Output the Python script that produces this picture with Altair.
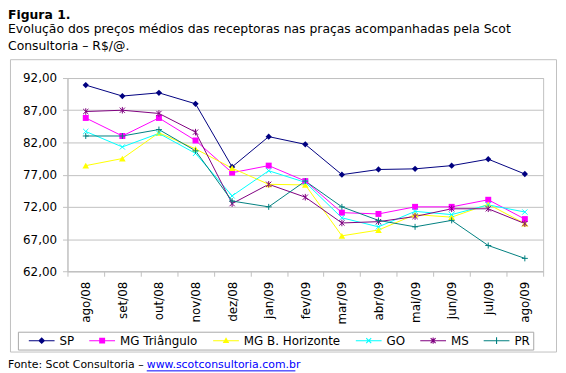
import math
import altair as alt
import pandas as pd

# ---------------- data ----------------
meses = ["ago/08", "set/08", "out/08", "nov/08", "dez/08", "jan/09", "fev/09",
         "mar/09", "abr/09", "mai/09", "jun/09", "jul/09", "ago/09"]
series = ["SP", "MG Triângulo", "MG B. Horizonte", "GO", "MS", "PR"]
sp = [90.9, 89.2, 89.7, 88.0, 78.2, 82.9, 81.7, 77.0, 77.8, 77.9, 78.4, 79.4, 77.1]
mg_tri = [85.8, 83.0, 85.8, 82.3, 77.3, 78.4, 76.0, 71.1, 70.9, 72.0, 72.0, 73.1, 70.1]
mg_bh = [78.4, 79.5, 83.5, 81.0, 78.0, 75.5, 75.4, 67.5, 68.4, 70.8, 70.4, 72.4, 69.4]
go = [83.7, 81.3, 83.4, 80.3, 73.7, 77.6, 75.8, 70.3, 68.9, 71.3, 70.8, 72.3, 71.2]
ms = [86.8, 87.0, 86.5, 83.6, 72.5, 75.5, 73.5, 69.5, 69.7, 70.5, 71.7, 71.7, 69.4]
pr = [83.0, 83.0, 84.0, 80.7, 72.9, 72.0, 76.0, 72.0, 69.9, 68.9, 69.9, 66.0, 64.0]
y_ticks = [62, 67, 72, 77, 82, 87, 92]

cores = ["#000080", "#ff00ff", "#ffff00", "#00ffff", "#800080", "#008080"]
valores = dict(zip(series, [sp, mg_tri, mg_bh, go, ms, pr]))

rows = []
for s in series:
    for i, (m, v) in enumerate(zip(meses, valores[s])):
        rows.append({"mes": m, "i": i, "serie": s, "valor": v})
df = pd.DataFrame(rows)
one = pd.DataFrame({"k": [0]})

FONT = "DejaVu Sans"
GRAY = "#c0c0c0"

# ---------------- legend symbols (line + marker) ----------------
# symbol size 100 -> 1 path unit = 5 px; line spans 26 px
U = 5.0


def poly(pts):
    n = len(pts)
    area = sum(pts[k][0] * pts[(k + 1) % n][1] - pts[(k + 1) % n][0] * pts[k][1] for k in range(n))
    if area > 0:
        pts = pts[::-1]
    return "M" + "L".join(f"{x / U:.3f},{y / U:.3f}" for x, y in pts) + "Z"


def seg(p, q, h=0.55):
    dx, dy = q[0] - p[0], q[1] - p[1]
    L = math.hypot(dx, dy)
    nx, ny = -dy / L * h, dx / L * h
    return poly([(p[0] + nx, p[1] + ny), (q[0] + nx, q[1] + ny),
                 (q[0] - nx, q[1] - ny), (p[0] - nx, p[1] - ny)])


line = seg((-13, 0), (13, 0), 0.5)
a = 2.5
xm = seg((-a, -a), (a, a)) + seg((-a, a), (a, -a))
leg_paths = [
    line + poly([(0, -3.5), (3.5, 0), (0, 3.5), (-3.5, 0)]),
    line + poly([(-3, -3), (3, -3), (3, 3), (-3, 3)]),
    line + poly([(0, -3.5), (3.3, 2.5), (-3.3, 2.5)]),
    line + xm,
    line + xm + seg((0, -3.1), (0, 3.1)),
    line + seg((0, -3.4), (0, 3.4)),
]

# ---------------- encodings ----------------
x_enc = alt.X("mes:N", sort=meses,
              scale=alt.Scale(type="band", paddingInner=0, paddingOuter=0),
              axis=alt.Axis(title=None, labelAngle=270, tickBand="extent", grid=False,
                            labelPadding=5, tickSize=5))
y_enc = alt.Y("valor:Q", scale=alt.Scale(domain=[62, 92], nice=False, zero=False),
              axis=alt.Axis(title=None, values=y_ticks, grid=True, tickSize=5, labelPadding=6,
                            labelExpr="replace(format(datum.value, '.2f'), '.', ',')"))
stroke_enc = alt.Stroke("serie:N", sort=series, scale=alt.Scale(range=cores), legend=None)
fill_enc = alt.Fill("serie:N", sort=series, scale=alt.Scale(range=cores), legend=None)

base = alt.Chart(df)

# outer frame (decorative box around the figure)
frame = []
L_, R_, T_, B_ = -57.5, 493.5, -18.5, 276.5
for (x1, x2, y1, y2) in [(L_, R_, T_, T_), (L_, R_, B_, B_), (L_, L_, T_, B_), (R_, R_, T_, B_)]:
    if y1 == y2:
        enc = dict(x=alt.value(x1), x2=alt.value(x2), y=alt.value(y1))
    else:
        enc = dict(x=alt.value(x1), y=alt.value(y1), y2=alt.value(y2))
    frame.append(alt.Chart(one).mark_rule(color=GRAY, strokeWidth=1).encode(**enc))

lines = base.mark_line(strokeWidth=1).encode(
    x=x_enc, y=y_enc, order=alt.Order("i:Q"), stroke=stroke_enc)

marker_specs = [
    ("SP", "diamond", True, 40),
    ("MG Triângulo", "square", True, 36),
    ("MG B. Horizonte", "triangle-up", True, 45),
    ("GO", "M-1,-1L1,1M-1,1L1,-1", False, 28),
    ("MS", "M-1,-1L1,1M-1,1L1,-1M0,-1.25L0,1.25", False, 28),
    ("PR", "M-1,0L1,0M0,-1L0,1", False, 36),
]
points = []
for s, shp, filled, size in marker_specs:
    enc = dict(x=x_enc, y=y_enc)
    if filled:
        enc["fill"] = fill_enc
    else:
        enc["stroke"] = stroke_enc
    points.append(
        base.transform_filter(alt.datum.serie == s)
        .mark_point(shape=shp, filled=filled, size=size, opacity=1, strokeWidth=1)
        .encode(**enc))

leg = alt.Legend(title=None, orient="none", legendX=-50, legendY=256, direction="horizontal",
                 padding=3, symbolOffset=15, labelOffset=12, columnPadding=7,
                 strokeColor="#a8a8a8", fillColor="white", labelFont=FONT, labelFontSize=12,
                 labelColor="black", symbolSize=100, symbolStrokeWidth=0,
                 labelExpr="datum.label == 'PR' ? 'PR ' : datum.label")
legend_layer = base.transform_filter("false").mark_point(filled=True, size=100, opacity=1).encode(
    x=x_enc, y=y_enc,
    color=alt.Color("serie:N", scale=alt.Scale(domain=series, range=cores), legend=leg),
    shape=alt.Shape("serie:N", scale=alt.Scale(domain=series, range=leg_paths), legend=leg))


def txt(s, x, y, size=11, bold=False, color="black"):
    return alt.Chart(one).mark_text(
        text=s, align="left", baseline="alphabetic", font=FONT, fontSize=size,
        fontWeight="bold" if bold else "normal", color=color).encode(
        x=alt.value(x), y=alt.value(y))


texts = [
    txt("Figura 1.", -60, -60, size=12.5, bold=True),
    txt("Evolução dos preços médios das receptoras nas praças acompanhadas pela Scot", -60, -45, size=12.5),
    txt("Consultoria – R$/@.", -60, -28, size=12.5),
    txt("Fonte: Scot Consultoria – ", -60, 293),
    txt("www.scotconsultoria.com.br", 80, 293, color="#0000ff"),
]
underline = alt.Chart(one).mark_rule(color="#0000ff", strokeWidth=1).encode(
    x=alt.value(80), x2=alt.value(230), y=alt.value(295.5))

chart = alt.layer(*frame, lines, *points, legend_layer, *texts, underline).properties(
    width=480, height=195,
    autosize=alt.AutoSizeParams(type="none"),
    padding={"left": 60, "top": 69, "right": 15, "bottom": 101},
    background="white",
).configure_view(stroke=GRAY, strokeWidth=1).configure_axis(
    labelFont=FONT, labelFontSize=12, labelColor="black",
    domainColor=GRAY, tickColor=GRAY, gridColor=GRAY, domainWidth=1, tickWidth=1, gridWidth=1,
)

chart.save("out.html", embed_options={"renderer": "svg", "actions": False})
